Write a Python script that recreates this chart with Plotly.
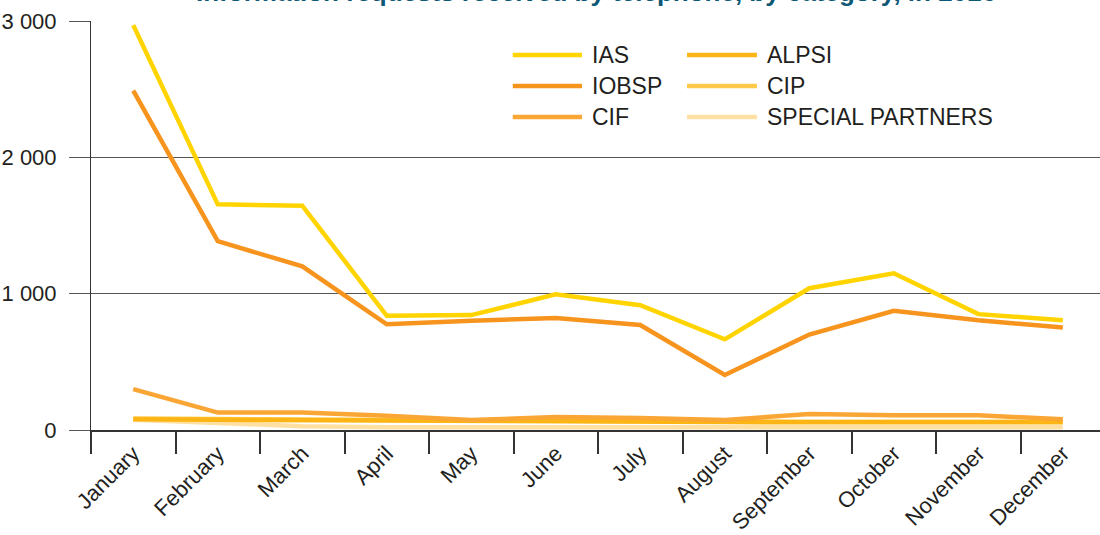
import plotly.graph_objects as go

# monthly counts
months = ["January", "February", "March", "April", "May", "June",
          "July", "August", "September", "October", "November", "December"]

ias = [2970, 1655, 1645, 838, 843, 995, 915, 665, 1040, 1150, 850, 805]
iobsp = [2490, 1385, 1200, 775, 802, 822, 770, 403, 700, 875, 805, 752]
cif = [300, 128, 128, 105, 73, 95, 88, 73, 118, 108, 108, 78]
alpsi = [78, 74, 72, 68, 62, 62, 62, 58, 57, 57, 57, 56]
cip = [84, 80, 78, 72, 66, 65, 64, 62, 61, 60, 60, 60]
special = [75, 50, 28, 20, 20, 18, 18, 18, 20, 20, 20, 20]

y_ticks = [0, 1000, 2000, 3000]
y_labels = ["0", "1 000", "2 000", "3 000"]

title = "Information requests received by telephone, by category, in 2016"

# name, values, colour  (legend is laid out in two columns)
series = {
    "IAS": (ias, "#FFD400"),
    "IOBSP": (iobsp, "#F7941E"),
    "CIF": (cif, "#FAA634"),
    "ALPSI": (alpsi, "#FDB515"),
    "CIP": (cip, "#FFCA4A"),
    "SPECIAL PARTNERS": (special, "#FFE0A3"),
}
legend_columns = [["IAS", "IOBSP", "CIF"], ["ALPSI", "CIP", "SPECIAL PARTNERS"]]
draw_order = ["SPECIAL PARTNERS", "CIP", "ALPSI", "CIF", "IOBSP", "IAS"]

narrow = "Liberation Sans Narrow, Arial Narrow, Liberation Sans, sans-serif"
regular = "Liberation Sans, Arial, sans-serif"
ink = "#231F20"

fig = go.Figure()
for name in draw_order:
    values, colour = series[name]
    fig.add_trace(go.Scatter(x=months, y=values, mode="lines", name=name,
                             line=dict(color=colour, width=4.5),
                             showlegend=False, hoverinfo="x+y+name"))

# hand made legend, so the line samples are long like in the original
shapes = []
annotations = []
col_x = [(0.418, 0.4866), (0.5907, 0.660)]
row_y = [0.917, 0.841, 0.765]
for (x0, x1), names in zip(col_x, legend_columns):
    for yy, name in zip(row_y, names):
        colour = series[name][1]
        shapes.append(dict(type="line", xref="paper", yref="paper",
                           x0=x0, x1=x1, y0=yy, y1=yy,
                           line=dict(color=colour, width=4.5)))
        annotations.append(dict(xref="paper", yref="paper", x=x1 + 0.0075, y=yy,
                                xanchor="left", yanchor="middle", showarrow=False,
                                text=name, font=dict(family=regular, size=23, color=ink)))

# title sits mostly above the visible page, as in the cropped reference
annotations.append(dict(xref="paper", yref="paper", x=0.5, y=1, xanchor="center",
                        yanchor="bottom", yshift=12, showarrow=False, text="<b>" + title + "</b>",
                        font=dict(family=narrow, size=26, color="#0D5876")))

fig.update_layout(
    width=1100, height=535,
    margin=dict(l=91, r=0, t=21, b=105),
    paper_bgcolor="white", plot_bgcolor="white",
    shapes=shapes, annotations=annotations,
    xaxis=dict(type="category", range=[-0.5, 11.44], tickson="boundaries",
               ticks="outside", ticklen=22, tickwidth=1.5, tickcolor="#333",
               showline=True, linecolor="#333", linewidth=2, showgrid=False,
               automargin=False, tickangle=-45,
               tickfont=dict(family=narrow, size=22, color=ink)),
    yaxis=dict(range=[0, 3000], tickvals=y_ticks, ticktext=y_labels,
               ticks="outside", ticklen=21, tickcolor="#555", tickwidth=1,
               gridcolor="#555", gridwidth=1, zeroline=False,
               showline=True, linecolor="#333", linewidth=1, automargin=False,
               ticklabelstandoff=8, tickfont=dict(family=narrow, size=22, color=ink)),
)

# drop the browser's default body margin so the figure fills the window
fig.write_html("out.html", config={"displayModeBar": False},
               post_script="document.body.style.margin = '0';")
